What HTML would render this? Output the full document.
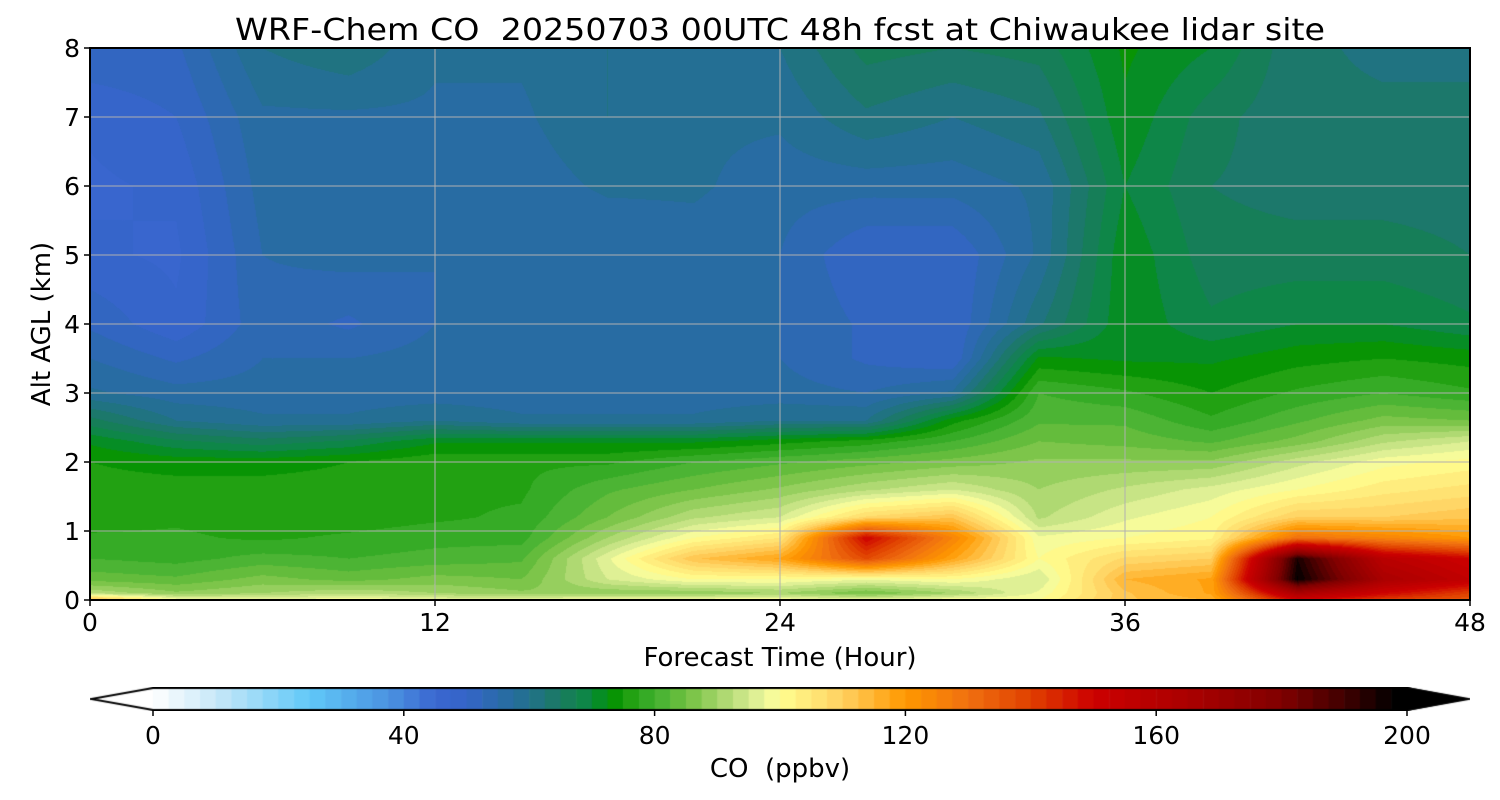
<!DOCTYPE html>
<html><head><meta charset="utf-8"><style>
body{margin:0;background:#fff;width:1500px;height:800px;overflow:hidden;font-family:"DejaVu Sans","Liberation Sans",sans-serif}
#wrap{position:relative;width:1500px;height:800px}
canvas{position:absolute}
svg{position:absolute;left:0;top:0;font-family:"DejaVu Sans","Liberation Sans",sans-serif}
</style></head><body>
<div id="wrap">
<canvas id="field" width="1380" height="552" style="left:90px;top:48px"></canvas>
<canvas id="cbar" width="1380" height="24" style="left:90px;top:687px"></canvas>
<svg id="ov" width="1500" height="800"></svg>
</div>
<script>
const hours=[0,3,6,9,12,15,18,21,24,27,30,33,36,39,42,45,48];
const alts=[0,0.1,0.3,0.6,0.9,1.2,1.6,2.0,2.3,2.6,3.0,3.5,4,5,6,7,8];
// rows = altitudes, cols = hours
const co=[
[115,100,98,100,98,98,100,100,100,98,100,100,112,115,150,140,135],
[92,88,90,92,90,88,88,88,90,85,90,98,112,118,165,150,140],
[84,83,86,84,86,85,95,100,100,98,100,95,115,118,198,165,155],
[80,79,81,80,81,82,97,112,118,138,118,100,108,110,195,158,150],
[78,78,77,78,79,79,90,100,105,150,125,98,100,102,130,125,120],
[76,77,76,76,77,78,85,92,95,108,112,92,97,100,110,110,112],
[76,76,76,76,77,77,82,85,88,92,95,90,93,96,100,104,106],
[75,74,74,75,77,77,77,80,82,84,86,88,88,88,94,99,101],
[72,68,66,68,72,72,72,72,74,76,80,85,84,82,86,92,95],
[66,60,58,58,60,58,58,58,60,60,74,82,82,78,82,86,85],
[58,56,56,56,56,56,56,56,56,55,58,80,78,75,78,80,78],
[55,52,55,55,56,55,56,56,55,52,50,73,72,72,74,75,74],
[52,48,54,52,55,56,55,56,55,52,50,62,72,68,70,70,68],
[48,47,55,56,55,56,55,56,55,50,50,58,72,66,66,66,65],
[47,48,56,56,56,56,58,58,56,56,56,58,70,65,64,64,64],
[48,50,57,57,57,57,60,58,58,62,60,62,72,66,63,63,63],
[52,52,60,62,58,58,60,58,60,66,65,66,73,70,63,62,62]];
const cbTicks=[0,40,80,120,160,200];
const yTicks=[0,1,2,3,4,5,6,7,8];
const xTicks=[0,12,24,36,48];

const stops=[[0,'#ffffff'],[10,'#c8e8f8'],[25,'#60c8f8'],[38,'#4a90e0'],[45,'#3a66d0'],[50,'#3464c8'],[55,'#2a6aaa'],[60,'#22708c'],[65,'#1a7a60'],[70,'#0a8a40'],[73,'#009000'],[76,'#20a010'],[80,'#40b030'],[85,'#70c040'],[93,'#c0e080'],[98,'#f0f8a0'],[100,'#ffff90'],[110,'#ffd060'],[120,'#ff9800'],[130,'#f07010'],[140,'#e04000'],[150,'#cc0000'],[165,'#aa0000'],[180,'#800000'],[190,'#400000'],[198,'#000000']];
function hex(h){return [1,3,5].map(i=>parseInt(h.substr(i,2),16));}
function cmap(v){
 v=Math.floor(v/2.5)*2.5+1.25;
 if(v<=stops[0][0])return hex(stops[0][1]);
 for(let i=1;i<stops.length;i++){if(v<=stops[i][0]){const a=hex(stops[i-1][1]),b=hex(stops[i][1]),t=(v-stops[i-1][0])/(stops[i][0]-stops[i-1][0]);return a.map((x,k)=>Math.round(x+(b[k]-x)*t));}}
 return [0,0,0];
}
const X0=90,X1=1470,Y0=600,Y1=48;
const xs=h=>X0+(h/48)*(X1-X0), ys=a=>Y0-(a/8)*(Y0-Y1);
function interp(arr,v){let i=0;while(i<arr.length-2&&v>arr[i+1])i++;return [i,Math.min(1,Math.max(0,(v-arr[i])/(arr[i+1]-arr[i])))];}
(function(){
 const c=document.getElementById('field'),ctx=c.getContext('2d'),W=c.width,H=c.height,img=ctx.createImageData(W,H);
 for(let py=0;py<H;py++){const a=(1-(py+0.5)/H)*8;const [r,ty]=interp(alts,a);
  for(let px=0;px<W;px++){const h=(px+0.5)/W*48;const [q,tx]=interp(hours,h);
   const v=(co[r][q]*(1-tx)+co[r][q+1]*tx)*(1-ty)+(co[r+1][q]*(1-tx)+co[r+1][q+1]*tx)*ty;
   const col=cmap(v),o=(py*W+px)*4;img.data[o]=col[0];img.data[o+1]=col[1];img.data[o+2]=col[2];img.data[o+3]=255;}}
 ctx.putImageData(img,0,0);
 const cb=document.getElementById('cbar'),cx=cb.getContext('2d');
 const L=63,R=1317;
 for(let v=0;v<200;v+=2.5){const col=cmap(v);cx.fillStyle=`rgb(${col})`;cx.fillRect(L+(v/200)*(R-L),0,(R-L)/80+0.6,24);}
 cx.fillStyle='#fff';cx.beginPath();cx.moveTo(L,0);cx.lineTo(L,24);cx.lineTo(0,12);cx.fill();
 cx.fillStyle='#000';cx.beginPath();cx.moveTo(R,0);cx.lineTo(R,24);cx.lineTo(1380,12);cx.fill();
 cx.strokeStyle='#000';cx.lineWidth=2;cx.beginPath();cx.moveTo(L,1);cx.lineTo(R,1);cx.lineTo(1379,12);cx.lineTo(R,23);cx.lineTo(L,23);cx.lineTo(1,12);cx.closePath();cx.stroke();
})();
const NS='http://www.w3.org/2000/svg',svg=document.getElementById('ov');
function el(t,a,txt){const e=document.createElementNS(NS,t);for(const k in a)e.setAttribute(k,a[k]);if(txt!==undefined)e.textContent=txt;svg.appendChild(e);return e;}
yTicks.forEach(v=>{
 const g=el('line',{x1:X0,x2:X1,y1:ys(v),y2:ys(v),stroke:'#b0b0b0','stroke-width':1});
 
 el('line',{x1:X0-6,x2:X0,y1:ys(v),y2:ys(v),stroke:'#000','stroke-width':1.5});
 const t=el('text',{x:X0-10,y:ys(v)+9,'text-anchor':'end','font-size':25},v);
 
});
xTicks.forEach(v=>{
 const g=el('line',{x1:xs(v),x2:xs(v),y1:Y1,y2:Y0,stroke:'#b0b0b0','stroke-width':1});
 
 el('line',{x1:xs(v),x2:xs(v),y1:Y0,y2:Y0+6,stroke:'#000','stroke-width':1.5});
 const t=el('text',{x:xs(v),y:Y0+31,'text-anchor':'middle','font-size':25},v);
 
});
const f=el('rect',{x:X0,y:Y1,width:X1-X0,height:Y0-Y1,fill:'none',stroke:'#000','stroke-width':2});

cbTicks.forEach(v=>{
 const x=153+(v/200)*(1407-153);
 el('line',{x1:x,x2:x,y1:710,y2:716,stroke:'#000','stroke-width':1.5});
 const t=el('text',{x:x,y:744,'text-anchor':'middle','font-size':25},v);
 
});
let t;
t=el('text',{x:780,y:40,'text-anchor':'middle','font-size':30,textLength:1090,lengthAdjust:'spacingAndGlyphs'},'WRF-Chem CO  20250703 00UTC 48h fcst at Chiwaukee lidar site');
t.setAttribute('xml:space','preserve');t.style.whiteSpace='pre';
t=el('text',{x:780,y:666,'text-anchor':'middle','font-size':26},'Forecast Time (Hour)');

t=el('text',{x:50,y:324,'text-anchor':'middle','font-size':26,transform:'rotate(-90 50 324)'},'Alt AGL (km)');

t=el('text',{x:780,y:777,'text-anchor':'middle','font-size':26},'CO  (ppbv)');
t.style.whiteSpace='pre';
</script>
</body></html>
